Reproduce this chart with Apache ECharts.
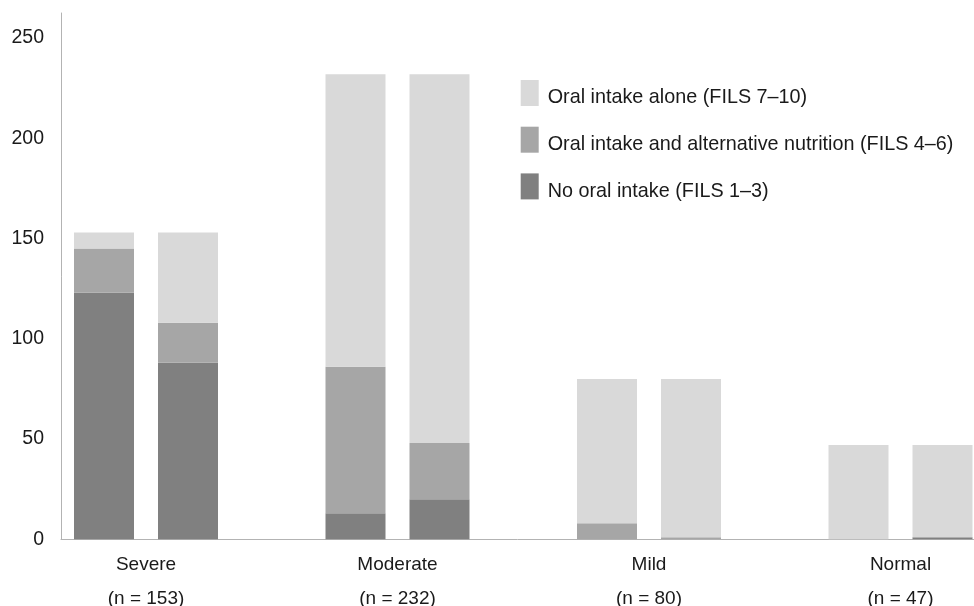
<!DOCTYPE html>
<html>
<head>
<meta charset="utf-8">
<script src="https://cdn.jsdelivr.net/npm/echarts@6/dist/echarts.min.js"></script>
<style>
html,body{margin:0;padding:0;background:#fff;}
#chart{width:974px;height:606px;}
</style>
</head>
<body>
<div id="chart"></div>
<script>
// Categories and group sizes
var categories = ['Severe', 'Moderate', 'Mild', 'Normal'];
var groupN = [153, 232, 80, 47];
var seriesNames = ['Oral intake alone (FILS 7\u201310)', 'Oral intake and alternative nutrition (FILS 4\u20136)', 'No oral intake (FILS 1\u20133)'];
// First bar of each pair
var firstNoOral = [123, 13, 0, 0];
var firstAlt = [22, 73, 8, 0];
var firstOral = [8, 146, 72, 47];
// Second bar of each pair
var secondNoOral = [88, 20, 0, 1];
var secondAlt = [20, 28, 1, 0];
var secondOral = [45, 184, 79, 46];
var yTicks = [0, 50, 100, 150, 200, 250];

var colors = { oral: '#d9d9d9', alt: '#a6a6a6', none: '#808080' };
var FONT = '"Liberation Sans", Arial, Helvetica, sans-serif';
var YMAX = 262.5;

var chart = echarts.init(document.getElementById('chart'), null, { renderer: 'canvas' });

function bar(name, stack, data, color) {
  return {
    name: name, type: 'bar', stack: stack, data: data,
    xAxisIndex: 1, yAxisIndex: 1,
    barWidth: 60, barGap: '40%',
    itemStyle: { color: color },
    emphasis: { disabled: true },
    animation: false
  };
}

var option = {
  animation: false,
  textStyle: { fontFamily: FONT },
  legend: {
    orient: 'vertical',
    left: 520.7, top: 80, padding: 0,
    itemWidth: 18, itemHeight: 26, itemGap: 18.7,
    data: seriesNames,
    icon: 'rect',
    formatter: function (name) { return '{t|' + name + '}'; },
    textStyle: {
      fontSize: 19.8, color: '#1a1a1a', fontFamily: FONT,
      rich: { t: { fontSize: 19.8, color: '#1a1a1a', fontFamily: FONT, padding: [10, 0, 0, 4] } }
    },
    selectedMode: false
  },
  grid: [
    { left: 61, right: 0, top: 13, bottom: 66.7, outerBoundsMode: 'none', containLabel: false },
    { left: 20.25, width: 1006, top: 13, bottom: 66.7, outerBoundsMode: 'none', containLabel: false }
  ],
  xAxis: [
    {
      gridIndex: 0, type: 'category', data: [''],
      axisLine: { show: true, lineStyle: { color: '#b3b3b3', width: 1 } },
      axisTick: { show: false }, axisLabel: { show: false }, splitLine: { show: false }
    },
    {
      gridIndex: 1, type: 'category', data: categories,
      axisLine: { show: false }, axisTick: { show: false }, splitLine: { show: false },
      axisLabel: {
        margin: 8,
        fontSize: 19, color: '#1a1a1a', fontFamily: FONT, lineHeight: 34,
        formatter: function (v, i) { return v + '\n(n = ' + groupN[i] + ')'; }
      }
    }
  ],
  yAxis: [
    {
      gridIndex: 0, type: 'value', min: 0, max: YMAX, interval: 50,
      axisLine: { show: true, lineStyle: { color: '#b3b3b3', width: 1 } },
      axisTick: { show: false }, splitLine: { show: false },
      axisLabel: {
        margin: 17, fontSize: 19.5, color: '#1a1a1a', fontFamily: FONT,
        showMaxLabel: false,
        formatter: function (v) { return yTicks.indexOf(v) >= 0 ? String(v) : ''; }
      }
    },
    {
      gridIndex: 1, type: 'value', min: 0, max: YMAX, interval: 50, show: false,
      splitLine: { show: false }
    }
  ],
  series: [
    bar(seriesNames[2], 'first', firstNoOral, colors.none),
    bar(seriesNames[1], 'first', firstAlt, colors.alt),
    bar(seriesNames[0], 'first', firstOral, colors.oral),
    bar(seriesNames[2], 'second', secondNoOral, colors.none),
    bar(seriesNames[1], 'second', secondAlt, colors.alt),
    bar(seriesNames[0], 'second', secondOral, colors.oral)
  ]
};
chart.setOption(option);
</script>
</body>
</html>
